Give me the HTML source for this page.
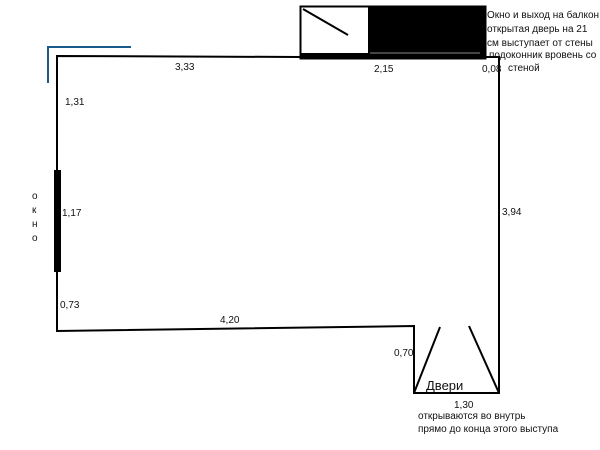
<!DOCTYPE html>
<html><head><meta charset="utf-8"><style>html,body{margin:0;padding:0;background:#fff}svg{display:block}text{font-family:"Liberation Sans",sans-serif;font-size:10px;fill:#111}</style></head><body>
<svg width="600" height="450" xmlns="http://www.w3.org/2000/svg">
<g stroke="#1a5a8a" stroke-width="2" fill="none"><path d="M48,83 V47 H131"/></g>
<g stroke="#000" stroke-width="2" fill="none">
<path d="M300,57 L57,56 V331 L414,326 V393 H499 V57 H485"/>
<line x1="414" y1="393" x2="440" y2="327"/>
<line x1="469" y1="326" x2="499" y2="393"/>
<rect x="300.5" y="6.5" width="185" height="52"/>
<line x1="303" y1="9" x2="348" y2="35"/>
</g>
<rect x="368" y="6" width="118" height="47" fill="#000"/>
<rect x="300" y="53" width="186" height="6" fill="#000"/>
<line x1="370" y1="53" x2="480" y2="53" stroke="#888" stroke-width="1"/>
<rect x="54" y="170" width="7" height="102" fill="#000"/>
<text x="175" y="70">3,33</text>
<text x="374" y="72">2,15</text>
<text x="482" y="72">0,08</text>
<text x="65" y="105">1,31</text>
<text x="62" y="216">1,17</text>
<text x="60" y="308">0,73</text>
<text x="220" y="323">4,20</text>
<text x="502" y="215">3,94</text>
<text x="394" y="356">0,70</text>
<text x="426" y="390" style="font-size:13px">Двери</text>
<text x="454" y="408">1,30</text>
<text x="418" y="419">открываются во внутрь</text>
<text x="418" y="432">прямо до конца этого выступа</text>
<text x="487" y="18">Окно и выход на балкон</text>
<text x="487" y="32">открытая дверь на 21</text>
<text x="487" y="46">см выступает от стены</text>
<text x="489" y="58">подоконник вровень со</text>
<text x="508" y="71">стеной</text>
<g style="font-size:8px"><text x="32" y="199">о</text><text x="32" y="213">к</text><text x="32" y="227">н</text><text x="32" y="241">о</text></g>
</svg>
</body></html>
